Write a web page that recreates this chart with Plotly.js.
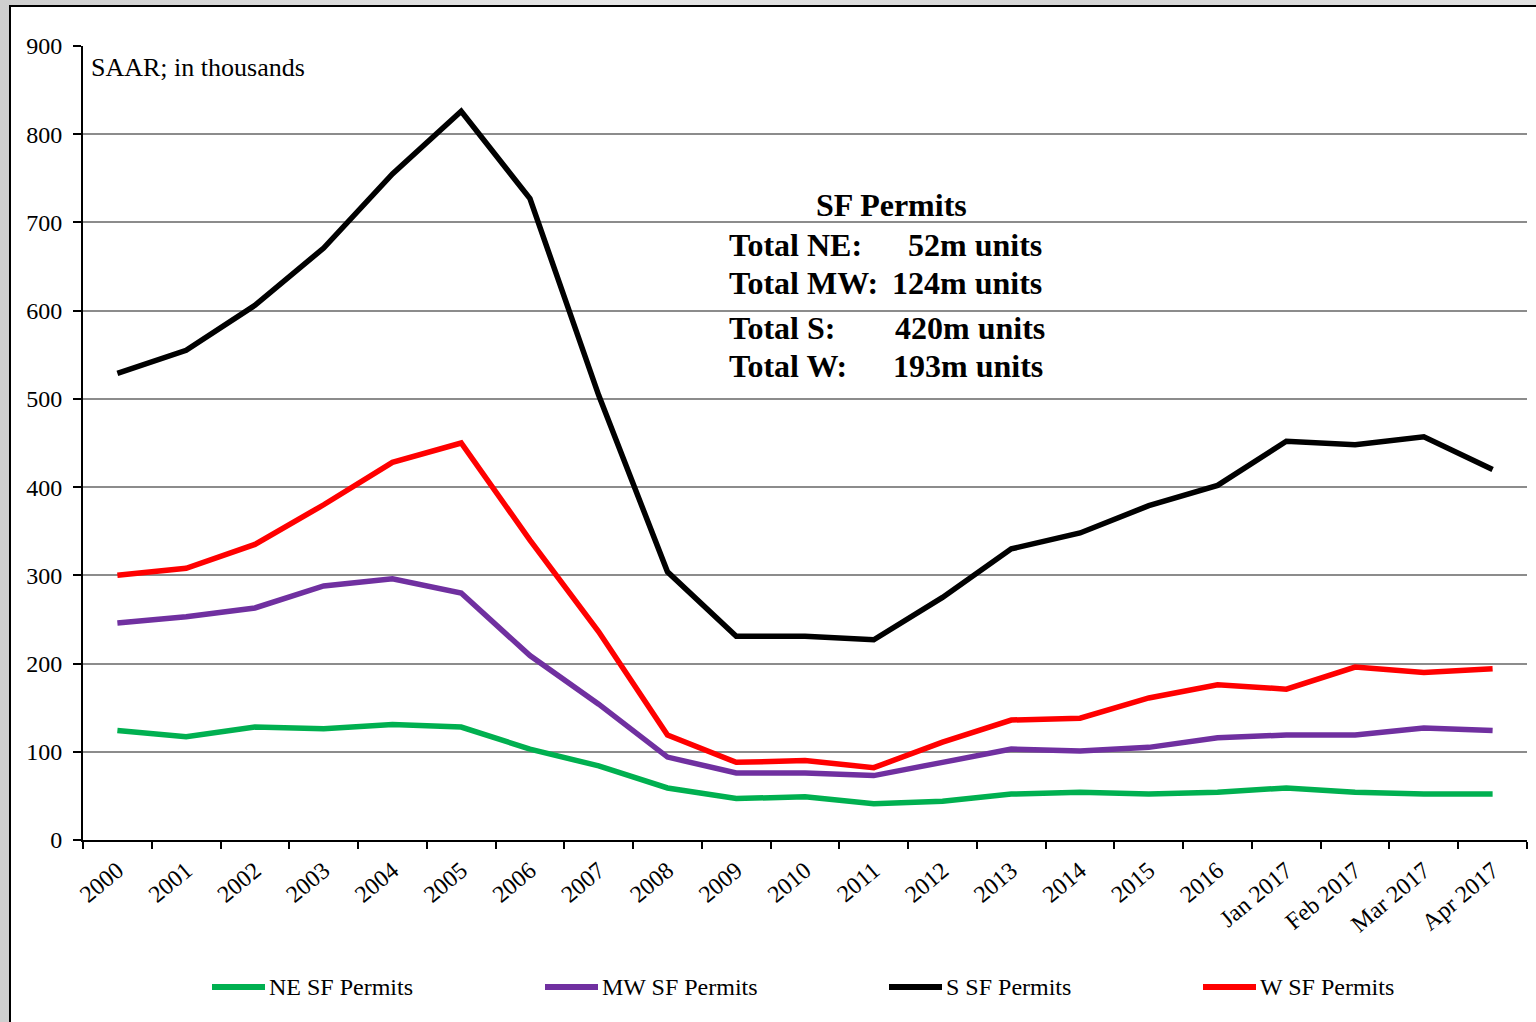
<!DOCTYPE html>
<html>
<head>
<meta charset="utf-8">
<script src="https://cdn.plot.ly/plotly-3.0.1.min.js"></script>
<style>
  html, body { margin: 0; padding: 0; width: 1536px; height: 1022px; overflow: hidden;
    background: linear-gradient(90deg, #cfcfcf, #e6e6e6 40%, #d4d4d4 70%, #e2e2e2); }
  #frame { position: absolute; left: 9px; top: 5px; width: 1527px; height: 1017px;
    border-left: 2px solid #000; border-top: 2px solid #000; background: #fff; }
  #chart { width: 1527px; height: 1017px; }
</style>
</head>
<body>
<div id="frame"><div id="chart"></div></div>
<script>
const categories = ['2000','2001','2002','2003','2004','2005','2006','2007','2008','2009','2010',
  '2011','2012','2013','2014','2015','2016','Jan 2017','Feb 2017','Mar 2017','Apr 2017'];

const neName = 'NE SF Permits';
const mwName = 'MW SF Permits';
const sName  = 'S SF Permits';
const wName  = 'W SF Permits';

const neValues = [124,117,128,126,131,128,103,84,59,47,49,41,44,52,54,52,54,59,54,52,52];
const mwValues = [246,253,263,288,296,280,209,154,94,76,76,73,88,103,101,105,116,119,119,127,124];
const sValues  = [529,555,606,671,755,826,727,504,304,231,231,227,275,330,348,379,402,452,448,457,420];
const wValues  = [300,308,335,380,428,450,340,236,119,88,90,82,111,136,138,161,176,171,196,190,194];

const boxTitle = 'SF Permits';
const boxLabels = ['Total NE:', 'Total MW:', 'Total S:', 'Total W:'];
const boxValues = ['52m units', '124m units', '420m units', '193m units'];
const unitNote = 'SAAR; in thousands';

const colors = { ne: '#00B050', mw: '#7030A0', s: '#000000', w: '#FF0000' };
const serif = 'Liberation Serif, Times New Roman, serif';

// page-pixel -> paper helpers (plot area on page: x 83..1527, y 46..840)
const PX0 = 83, PX1 = 1527, PY0 = 46, PY1 = 840;
const px = x => (x - PX0) / (PX1 - PX0);
const py = y => (PY1 - y) / (PY1 - PY0);

function trace(name, vals, color) {
  return { type: 'scatter', mode: 'lines', x: categories, y: vals, name: name,
    line: { color: color, width: 5.5 }, showlegend: false, hoverinfo: 'skip' };
}
const data = [
  trace(neName, neValues, colors.ne),
  trace(mwName, mwValues, colors.mw),
  trace(sName, sValues, colors.s),
  trace(wName, wValues, colors.w)
];

const annotations = [];
const shapes = [];
annotations.push({ xref: 'paper', yref: 'paper', x: px(89), y: py(67), xanchor: 'left', yanchor: 'middle',
  text: unitNote, showarrow: false, font: { family: serif, size: 26, color: '#000' } });
annotations.push({ xref: 'paper', yref: 'paper', x: px(891), y: py(205), xanchor: 'center', yanchor: 'middle',
  text: '<b>' + boxTitle + '</b>', showarrow: false, font: { family: serif, size: 32, color: '#000' } });
const rowY = [245, 283, 328, 366];
const rowRight = [1044, 1044, 1047, 1045];
for (let i = 0; i < boxLabels.length; i++) {
  annotations.push({ xref: 'paper', yref: 'paper', x: px(727), y: py(rowY[i]), xanchor: 'left', yanchor: 'middle',
    text: '<b>' + boxLabels[i] + '</b>', showarrow: false, font: { family: serif, size: 32, color: '#000' } });
  annotations.push({ xref: 'paper', yref: 'paper', x: px(rowRight[i]), y: py(rowY[i]), xanchor: 'right', yanchor: 'middle',
    text: '<b>' + boxValues[i] + '</b>', showarrow: false, font: { family: serif, size: 32, color: '#000' } });
}
// custom legend
const legendItems = [
  { name: neName, color: colors.ne, x: 212 },
  { name: mwName, color: colors.mw, x: 545 },
  { name: sName,  color: colors.s,  x: 889 },
  { name: wName,  color: colors.w,  x: 1203 }
];
const legY = 987;
legendItems.forEach(it => {
  shapes.push({ type: 'line', xref: 'paper', yref: 'paper', x0: px(it.x), x1: px(it.x + 53),
    y0: py(legY), y1: py(legY), line: { color: it.color, width: 6 } });
  annotations.push({ xref: 'paper', yref: 'paper', x: px(it.x + 55), y: py(legY), xanchor: 'left', yanchor: 'middle',
    text: it.name, showarrow: false, font: { family: serif, size: 24, color: '#000' } });
});

const layout = {
  width: 1527, height: 1017,
  margin: { l: 72, r: 11, t: 39, b: 184 },
  paper_bgcolor: 'rgba(0,0,0,0)', plot_bgcolor: 'rgba(0,0,0,0)',
  showlegend: false,
  font: { family: serif, color: '#000' },
  xaxis: {
    type: 'category', range: [-0.5, 20.5], tickson: 'boundaries',
    ticks: 'outside', ticklen: 7, tickwidth: 2, tickcolor: '#000',
    showline: true, linecolor: '#000', linewidth: 2, showgrid: false, zeroline: false,
    tickangle: -40, tickfont: { family: serif, size: 24, color: '#000' },
    ticklabelstandoff: 5, automargin: false
  },
  yaxis: {
    range: [0, 900], dtick: 100, tick0: 0,
    showgrid: true, gridcolor: '#8c8c8c', gridwidth: 2,
    ticks: 'outside', ticklen: 8, tickwidth: 2, tickcolor: '#000',
    showline: true, linecolor: '#000', linewidth: 2, zeroline: false,
    tickfont: { family: serif, size: 24, color: '#000' }, ticklabelstandoff: 6, automargin: false
  },
  annotations: annotations,
  shapes: shapes
};

Plotly.newPlot('chart', data, layout, { staticPlot: true, displayModeBar: false });
</script>
</body>
</html>
